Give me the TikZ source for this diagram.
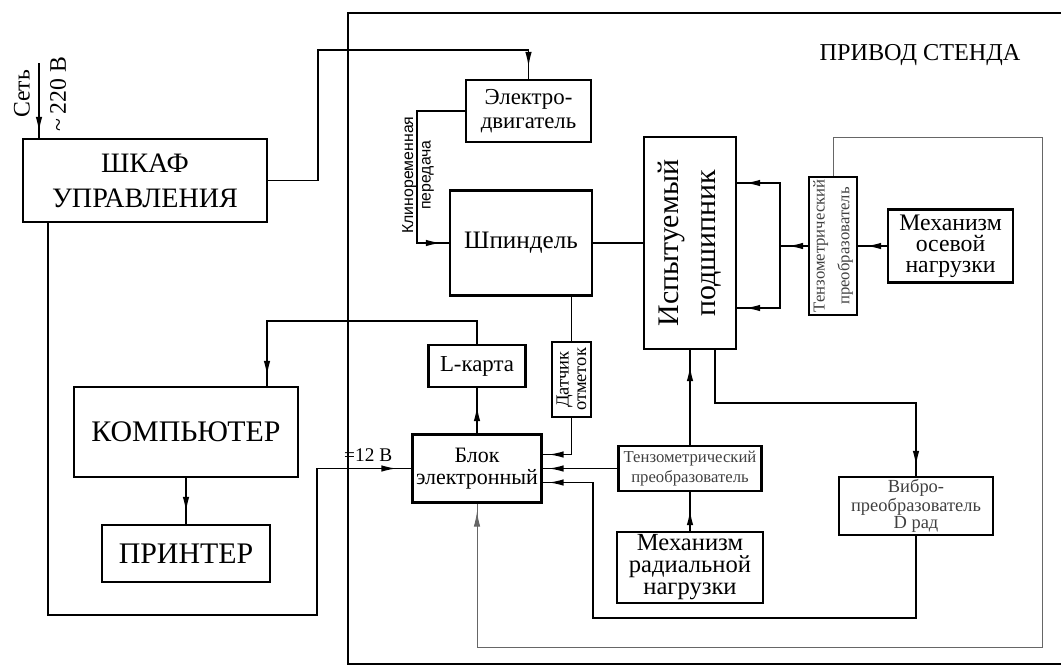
\documentclass[tikz,border=0pt]{standalone}
\usepackage{fontspec}
\setmainfont{Liberation Serif}
\newfontfamily\beltfont{Liberation Sans}
\usetikzlibrary{arrows.meta, decorations.markings}

\newcommand{\fsz}[2]{\fontsize{#1}{#2}\selectfont}

\tikzset{
  blk/.style={draw, line width=1.3pt, align=center, inner sep=1pt},
  wire/.style={line width=0.8pt},
  sig/.style={wire, postaction={decorate}, decoration={markings,
      mark=at position -#1 with {\arrow{Latex[length=3mm,width=1.3mm]}}}},
  sig/.default=0.24cm,
  gaugewire/.style={line width=0.5pt, draw=black!60},
  vtext/.style={rotate=90, align=center},
}

\begin{document}
\begin{tikzpicture}
    \useasboundingbox (0,0) rectangle (21.22,-13.36);

    % frame of the rig drive
    \coordinate (frtr) at (21.22,-0.26);
    \coordinate (frtl) at (6.96,-0.26);
    \coordinate (frbl) at (6.96,-13.28);
    \coordinate (frbr) at (21.22,-13.28);
    \draw[line width=1.3pt] (frtr) -- (frtl) -- (frbl) -- (frbr);
    \node[font=\fsz{13.8}{18}] (rigtitle) at (18.4,-1.1) {ПРИВОД СТЕНДА};

    % cabinet, computer, printer
    \node[blk, minimum width=4.88cm, minimum height=1.66cm, font=\fsz{16}{20}] (cabinet) at (2.90,-3.61) {ШКАФ\\УПРАВЛЕНИЯ};
    \node[blk, minimum width=4.48cm, minimum height=1.8cm, font=\fsz{17}{20}] (computer) at (3.72,-8.64) {КОМПЬЮТЕР};
    \node[blk, minimum width=3.36cm, minimum height=1.14cm, font=\fsz{17}{20}] (printer) at (3.72,-11.07) {ПРИНТЕР};

    % mechanical part
    \node[blk, minimum width=2.5cm, minimum height=1.24cm, font=\fsz{13}{14}] (motor) at (10.57,-2.22) {Электро-\\двигатель};
    \node[blk, minimum width=2.84cm, minimum height=2.1cm, font=\fsz{14.3}{16}] (spindle) at (10.42,-4.86) {Шпиндель};
    \node[blk, minimum width=1.84cm, minimum height=4.24cm] (bearing) at (13.8,-4.86) {};
    \node[vtext, font=\fsz{17}{21}] (bearinglbl) at (bearing) {Испытуемый\\подшипник};
    \node[blk, minimum width=0.96cm, minimum height=2.76cm] (axgauge) at (16.66,-4.92) {};
    \node[vtext, font=\fsz{9.5}{14}, text=black!75] (axgaugelbl) at (axgauge) {Тензометрический\\преобразователь};
    \node[blk, minimum width=2.5cm, minimum height=1.46cm, font=\fsz{13.5}{12}] (axload) at (19.01,-4.92) {Механизм\\осевой\\нагрузки};

    % measuring part
    \node[blk, minimum width=1.94cm, minimum height=0.84cm, font=\fsz{13}{14}] (lcard) at (9.54,-7.32) {L-карта};
    \node[blk, line width=1pt, minimum width=0.78cm, minimum height=1.5cm] (marker) at (11.43,-7.59) {};
    \node[vtext, font=\fsz{10.5}{10}] (markerlbl) at (marker) {Датчик\\отметок};
    \node[blk, minimum width=2.58cm, minimum height=1.36cm, font=\fsz{12.5}{12.5}] (eblock) at (9.54,-9.37) {Блок\\электронный};
    \node[blk, minimum width=2.86cm, minimum height=0.9cm, font=\fsz{9.5}{11}, text=black!75] (radgauge) at (13.8,-9.37) {Тензометрический\\преобразователь};
    \node[blk, minimum width=2.92cm, minimum height=1.42cm, font=\fsz{14}{12.5}] (radload) at (13.8,-11.35) {Механизм\\радиальной\\нагрузки};
    \node[blk, minimum width=3.08cm, minimum height=1.16cm, font=\fsz{10.5}{9.5}, text=black!75] (vibro) at (18.32,-10.12) {Вибро-\\преобразователь\\D рад};

    % mains
    \coordinate (mains) at (0.78,-1.26);
    \draw[sig=0.12cm] (mains) -- (mains |- cabinet.north);
    \node[vtext, font=\fsz{13.5}{20.5}] (mainslbl) at (0.8,-1.88) {Сеть\\\textasciitilde\,220 В};

    % power to the motor
    \coordinate (pwrup) at (6.36,-1.0);
    \draw[sig] (cabinet.east) -| (pwrup) -| (motor.north);

    % belt drive
    \draw[sig=0.16cm] (motor.west) -- ++(-0.96,0) |- (spindle.west);
    \node[vtext, font=\beltfont\fsz{9}{10}] (beltlbl) at (8.36,-3.5) {Клиноременная\\передача};
    \draw[wire] (spindle.east) -- (spindle.east -| bearing.west);
    \draw[wire] (spindle.south -| marker.north) -- (marker.north);

    % axial load
    \coordinate (axsplit) at (15.6,-4.92);
    \draw[sig=0.16cm] (axload.west) -- (axgauge.east);
    \draw[sig=0.16cm] (axgauge.west) -- (axsplit);
    \draw[sig=0.16cm] (axsplit) |- ([yshift=1.2cm]bearing.east);
    \draw[sig=0.16cm] (axsplit) |- ([yshift=-1.3cm]bearing.east);

    % radial load
    \draw[sig=0.32cm] (radgauge.north) -- (bearing.south);
    \draw[sig=0.36cm] (radload.north) -- (radgauge.south);

    % signals to the electronic block
    \draw[sig=0.12cm] (marker.south) |- ([yshift=0.28cm]eblock.east);
    \draw[sig=0.12cm] (radgauge.west) -- (eblock.east);
    \coordinate (vibtap) at (18.32,-8.06);
    \draw[sig=0.2cm] ([xshift=0.5cm]bearing.south) |- (vibtap) -- (vibro.north);
    \coordinate (vibret) at (11.86,-12.36);
    \draw[sig=0.12cm] (vibro.south) |- (vibret) |- ([yshift=-0.28cm]eblock.east);
    \coordinate (gtop) at (20.84,-2.74);
    \coordinate (gbot) at (20.84,-12.94);
    \draw[sig=0.16cm, gaugewire] (axgauge.north) |- (gtop) -- (gbot) -| (eblock.south);

    % to the computer
    \draw[sig=0.36cm] (eblock.north) -- (lcard.south);
    \draw[sig=0.2cm] (lcard.north) -- ++(0,0.46) -| ([xshift=1.62cm]computer.north);
    \draw[sig] (computer.south) -- (printer.north);

    % dc supply
    \coordinate (dcc) at (6.34,-12.3);
    \draw[sig=0.3cm] ([xshift=-1.94cm]cabinet.south) |- (dcc) |- (eblock.west);
    \node[font=\fsz{11}{12}, anchor=south east] (dclbl) at ([xshift=-0.26cm,yshift=0.02cm]eblock.west) {=12 В};
\end{tikzpicture}
\end{document}
